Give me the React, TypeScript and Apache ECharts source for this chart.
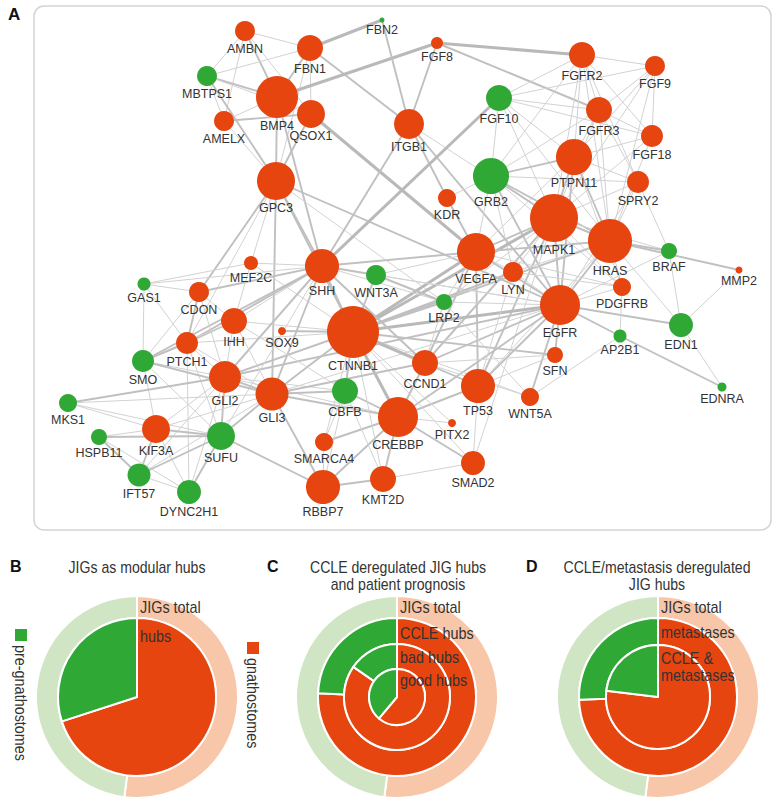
import React, { useEffect, useRef } from 'react';
import * as echarts from 'echarts';

const FONT = '"Liberation Sans", Arial, Helvetica, sans-serif';
const ORANGE = '#E6450F';
const GREEN = '#2FA836';
const LIGHT_ORANGE = '#F8C6A8';
const LIGHT_GREEN = '#CFE5C3';

// ---- Panel A: network nodes ----
const nodeNames = ['AMBN','FBN1','FBN2','MBTPS1','BMP4','QSOX1','AMELX','GPC3','FGF8','FGFR2','FGF9','FGF10','FGFR3','ITGB1','FGF18','PTPN11','GRB2','SPRY2','KDR','MAPK1','HRAS','BRAF','VEGFA','LYN','MMP2','PDGFRB','LRP2','EGFR','EDN1','AP2B1','SFN','CCND1','TP53','EDNRA','WNT5A','CREBBP','PITX2','SMAD2','KMT2D','MEF2C','SHH','WNT3A','GAS1','CDON','IHH','SOX9','CTNNB1','PTCH1','SMO','GLI2','GLI3','CBFB','MKS1','KIF3A','SUFU','HSPB11','SMARCA4','IFT57','DYNC2H1','RBBP7'];
const nodeX = [245,310,382,207,277,311,224,276,437,582,655,499,599,409,652,574,491,638,447,554,610,669,476,513,739,622,444,560,681,620,555,425,478,722,530,398,452,473,383,251,322,376,144,199,234,282,353,187,143,225,272,345,68,156,221,99,324,139,189,323];
const nodeY = [31,48,20,76,97,114,121,181,43,55,66,98,110,124,136,157,176,182,198,218,241,251,252,272,270,287,302,305,325,336,355,363,386,387,397,417,423,463,479,263,266,275,284,292,321,331,332,343,361,377,394,391,403,429,436,437,442,475,492,487];
const nodeDiameter = [20,26,5,20,42,28,20,38,12,26,20,26,26,30,22,36,36,22,18,48,44,16,38,20,7,18,16,40,24,13,16,26,34,9,18,40,8,24,26,14,34,20,13,20,26,8,52,22,22,32,33,26,18,28,28,16,18,23,24,34];
// G = pre-gnathostomes, O = gnathostomes
const nodeClade = ['O','O','G','G','O','O','O','O','O','O','O','G','O','O','O','O','G','O','O','O','O','G','O','O','O','O','G','O','G','G','O','O','O','G','O','O','O','O','O','O','O','G','G','O','O','O','O','O','G','O','O','G','G','O','G','G','O','G','G','O'];

// ---- Panel A: network edges [source, target, strength] ----
const edges: [string, string, number][] = [
  ['AMBN','FBN1',1],['AMBN','MBTPS1',1],['AMBN','BMP4',2],['AMBN','AMELX',1],['AMBN','QSOX1',1],
  ['FBN1','FBN2',3],['FBN1','MBTPS1',1],['FBN1','BMP4',2],['FBN1','QSOX1',1],['FBN1','ITGB1',2],['FBN1','GPC3',1],
  ['MBTPS1','BMP4',2],['MBTPS1','QSOX1',1],['MBTPS1','AMELX',1],['MBTPS1','GPC3',2],
  ['AMELX','BMP4',1],['AMELX','QSOX1',2],['AMELX','GPC3',1],
  ['BMP4','QSOX1',1],['BMP4','GPC3',2],['BMP4','FGF8',3],['BMP4','SHH',2],
  ['QSOX1','GPC3',2],['QSOX1','VEGFA',3],
  ['GPC3','SHH',2],['GPC3','MEF2C',1],['GPC3','CDON',2],['GPC3','CTNNB1',2],['GPC3','EGFR',2],['GPC3','LRP2',1],['GPC3','PTCH1',1],['GPC3','GLI3',2],
  ['FBN2','ITGB1',2],
  ['ITGB1','FGF8',2],['ITGB1','KDR',2],['ITGB1','EGFR',2],['ITGB1','MAPK1',1],['ITGB1','SHH',2],
  ['FGF8','FGFR2',3],['FGF8','FGFR3',2],
  ['FGFR2','FGF9',1],['FGFR2','FGF10',1],['FGFR2','FGFR3',1],['FGFR2','FGF18',1],['FGFR2','PTPN11',1],['FGFR2','GRB2',1],['FGFR2','MAPK1',1],['FGFR2','HRAS',1],['FGFR2','SPRY2',1],
  ['FGF9','FGFR3',1],['FGF9','PTPN11',1],['FGF9','FGF10',1],['FGF9','FGF18',1],['FGF9','HRAS',1],['FGF9','MAPK1',1],
  ['FGF10','FGFR3',1],['FGF10','FGF18',1],['FGF10','MAPK1',1],['FGF10','SHH',3],['FGF10','PTPN11',1],['FGF10','HRAS',1],['FGF10','GRB2',1],
  ['FGFR3','PTPN11',1],['FGFR3','GRB2',1],['FGFR3','MAPK1',1],['FGFR3','HRAS',1],['FGFR3','FGF18',1],['FGFR3','SPRY2',1],
  ['FGF18','PTPN11',1],['FGF18','MAPK1',1],['FGF18','HRAS',1],
  ['PTPN11','GRB2',2],['PTPN11','MAPK1',2],['PTPN11','HRAS',2],['PTPN11','EGFR',2],['PTPN11','SPRY2',1],['PTPN11','PDGFRB',1],['PTPN11','VEGFA',1],
  ['GRB2','MAPK1',2],['GRB2','HRAS',2],['GRB2','EGFR',2],['GRB2','KDR',1],['GRB2','VEGFA',1],['GRB2','LYN',1],['GRB2','PDGFRB',1],['GRB2','SPRY2',1],
  ['SPRY2','MAPK1',1],['SPRY2','HRAS',1],['SPRY2','EGFR',1],['SPRY2','BRAF',1],
  ['MAPK1','HRAS',2],['MAPK1','EGFR',2],['MAPK1','VEGFA',2],['MAPK1','BRAF',1],['MAPK1','CTNNB1',3],['MAPK1','TP53',2],['MAPK1','CCND1',2],['MAPK1','LYN',1],['MAPK1','PDGFRB',1],['MAPK1','SMAD2',1],['MAPK1','LRP2',1],
  ['HRAS','BRAF',2],['HRAS','EGFR',2],['HRAS','PDGFRB',1],['HRAS','VEGFA',2],['HRAS','EDN1',1],['HRAS','CTNNB1',2],['HRAS','TP53',1],['HRAS','MMP2',2],['HRAS','LYN',1],
  ['BRAF','EGFR',1],
  ['VEGFA','KDR',2],['VEGFA','EGFR',2],['VEGFA','CTNNB1',3],['VEGFA','TP53',2],['VEGFA','LRP2',1],['VEGFA','CCND1',2],['VEGFA','SHH',2],['VEGFA','LYN',1],['VEGFA','PDGFRB',1],['VEGFA','WNT3A',1],
  ['EGFR','CTNNB1',3],['EGFR','TP53',2],['EGFR','CCND1',2],['EGFR','SFN',2],['EGFR','LYN',1],['EGFR','PDGFRB',1],['EGFR','AP2B1',2],['EGFR','EDN1',2],['EGFR','LRP2',1],['EGFR','WNT5A',2],['EGFR','CREBBP',2],['EGFR','SHH',1],['EGFR','GLI2',2],['EGFR','GLI3',1],['EGFR','WNT3A',1],
  ['EDN1','MMP2',1],['EDN1','EDNRA',1],['EDN1','BRAF',1],
  ['AP2B1','EDNRA',2],['AP2B1','WNT5A',1],['AP2B1','PDGFRB',1],
  ['SFN','CCND1',1],['SFN','CTNNB1',2],['SFN','TP53',1],
  ['WNT5A','LRP2',1],['WNT5A','CTNNB1',1],['WNT5A','CCND1',1],
  ['TP53','CCND1',1],['TP53','CREBBP',2],['TP53','CTNNB1',2],['TP53','SMAD2',1],['TP53','LYN',1],
  ['CREBBP','CTNNB1',3],['CREBBP','CCND1',2],['CREBBP','SMAD2',2],['CREBBP','PITX2',1],['CREBBP','KMT2D',2],['CREBBP','CBFB',2],['CREBBP','SMARCA4',2],['CREBBP','RBBP7',2],['CREBBP','GLI3',2],['CREBBP','GLI2',1],
  ['SMAD2','KMT2D',1],['SMAD2','CTNNB1',1],
  ['KMT2D','RBBP7',2],['KMT2D','CBFB',1],['KMT2D','CTNNB1',1],
  ['RBBP7','SMARCA4',1],['RBBP7','GLI3',2],['RBBP7','SUFU',2],['RBBP7','CBFB',1],
  ['SMARCA4','CBFB',1],['SMARCA4','CTNNB1',1],
  ['CBFB','CTNNB1',2],['CBFB','GLI3',2],['CBFB','GLI2',1],
  ['CTNNB1','SHH',2],['CTNNB1','WNT3A',2],['CTNNB1','LRP2',2],['CTNNB1','CCND1',3],['CTNNB1','SOX9',2],['CTNNB1','GLI2',2],['CTNNB1','GLI3',2],['CTNNB1','IHH',1],['CTNNB1','MEF2C',1],['CTNNB1','LYN',2],['CTNNB1','PTCH1',1],['CTNNB1','PITX2',1],
  ['SHH','WNT3A',2],['SHH','MEF2C',1],['SHH','GAS1',1],['SHH','CDON',2],['SHH','IHH',1],['SHH','PTCH1',2],['SHH','SMO',2],['SHH','GLI2',2],['SHH','GLI3',2],['SHH','SUFU',1],['SHH','LRP2',1],['SHH','CCND1',2],
  ['WNT3A','LRP2',2],
  ['MEF2C','GAS1',1],['MEF2C','IHH',1],
  ['GAS1','CDON',1],['GAS1','SMO',1],['GAS1','PTCH1',1],
  ['CDON','PTCH1',2],['CDON','IHH',1],['CDON','SMO',1],['CDON','GLI2',1],
  ['IHH','PTCH1',2],['IHH','SMO',1],['IHH','GLI2',1],['IHH','GLI3',1],['IHH','CBFB',1],
  ['PTCH1','SMO',2],['PTCH1','GLI2',1],['PTCH1','GLI3',1],['PTCH1','SUFU',1],['PTCH1','DYNC2H1',1],
  ['SMO','GLI2',1],['SMO','GLI3',2],['SMO','KIF3A',1],['SMO','SUFU',1],
  ['GLI2','GLI3',2],['GLI2','SUFU',2],['GLI2','KIF3A',1],['GLI2','MKS1',2],['GLI2','IFT57',1],['GLI2','DYNC2H1',1],
  ['GLI3','SUFU',2],['GLI3','KIF3A',1],['GLI3','MKS1',1],['GLI3','IFT57',1],['GLI3','CCND1',2],
  ['MKS1','SUFU',1],['MKS1','KIF3A',1],
  ['KIF3A','SUFU',2],['KIF3A','IFT57',2],['KIF3A','DYNC2H1',1],['KIF3A','HSPB11',1],
  ['HSPB11','IFT57',2],['HSPB11','DYNC2H1',1],['HSPB11','SUFU',2],
  ['IFT57','DYNC2H1',1],['IFT57','SUFU',2],
  ['DYNC2H1','SUFU',2],
  ['LRP2','CCND1',1],
  ['LYN','PDGFRB',1],
];

// ---- Panels B-D: ring values [gnathostomes, pre-gnathostomes] ----
const jigsTotal = [208, 192];
const bHubs = [42, 18];
const cCcleHubs = [25, 8];
const cBadHubs = [11, 2];
const cGoodHubs = [11, 7];
const dMetastases = [35, 12];
const dCcleMetastases = [20, 6];

const panelTitles = {
  B: ['JIGs as modular hubs'],
  C: ['CCLE deregulated JIG hubs', 'and patient prognosis'],
  D: ['CCLE/metastasis deregulated', 'JIG hubs'],
};
const cladeNames = ['gnathostomes', 'pre-gnathostomes'];

const edgeStyle = (w: number) =>
  w >= 3 ? { width: 3, color: '#b9b9b9' } : w === 2 ? { width: 1.9, color: '#c0c0c0' } : { width: 1, color: '#d2d2d2' };

function ring(center: number[], radius: number[], values: number[], light: boolean) {
  return {
    type: 'pie',
    center,
    radius,
    startAngle: 90,
    clockwise: true,
    silent: true,
    label: { show: false },
    labelLine: { show: false },
    emphasis: { disabled: true },
    itemStyle: { borderColor: '#ffffff', borderWidth: 2 },
    data: values.map((v, i) => ({
      value: v,
      name: cladeNames[i],
      itemStyle: { color: i === 0 ? (light ? LIGHT_ORANGE : ORANGE) : (light ? LIGHT_GREEN : GREEN) },
    })),
  };
}

function txt(text: string, x: number, y: number, size: number, extra: any = {}, rotation = 0) {
  return {
    type: 'text',
    x,
    y,
    rotation,
    scaleX: extra.sx || 1,
    z: 100,
    style: {
      text,
      x: 0,
      y: 0,
      fontSize: size,
      fontFamily: FONT,
      fontWeight: extra.bold ? 'bold' : 'normal',
      fill: extra.fill || '#333333',
      textAlign: extra.align || 'left',
      textVerticalAlign: 'middle',
    },
  };
}

export default function App() {
  const ref = useRef<HTMLDivElement>(null);
  useEffect(() => {
    document.body.style.margin = '0';
    const chart = echarts.init(ref.current!, null, { renderer: 'svg' });

    const nodes = nodeNames.map((n, i) => ({
      name: n,
      value: [nodeX[i], nodeY[i]],
      symbolSize: nodeDiameter[i],
      itemStyle: { color: nodeClade[i] === 'G' ? GREEN : ORANGE },
    }));
    const links = edges.map(([s, t, w]) => ({ source: s, target: t, lineStyle: edgeStyle(w) }));

    const cB = [137, 697];
    const cC = [397, 697];
    const cD = [658, 697];
    const T = { align: 'center', sx: 0.88 };
    const L = { sx: 0.9 };

    const graphics: any[] = [
      {
        type: 'rect',
        z: 0,
        shape: { x: 34, y: 6, width: 737, height: 524, r: 10 },
        style: { fill: 'none', stroke: '#d3d3d3', lineWidth: 1.5 },
      },
      txt('A', 8, 14, 17, { bold: true, fill: '#111' }),
      txt('B', 10, 566, 16, { bold: true, fill: '#111' }),
      txt('C', 267, 566, 16, { bold: true, fill: '#111' }),
      txt('D', 526, 566, 16, { bold: true, fill: '#111' }),
      txt(panelTitles.B[0], 137, 567, 16, T),
      txt(panelTitles.C[0], 398, 567, 16, T),
      txt(panelTitles.C[1], 398, 584, 16, T),
      txt(panelTitles.D[0], 657, 567, 16, T),
      txt(panelTitles.D[1], 657, 584, 16, T),
      // B labels
      txt('JIGs total', 140, 607, 16, L),
      txt('hubs', 140, 636, 16, L),
      // C labels
      txt('JIGs total', 400, 607, 16, L),
      txt('CCLE hubs', 400, 633, 16, L),
      txt('bad hubs', 400, 657, 16, L),
      txt('good hubs', 400, 680, 16, L),
      // D labels
      txt('JIGs total', 661, 607, 16, L),
      txt('metastases', 661, 632, 16, L),
      txt('CCLE &', 661, 658, 16, L),
      txt('metastases', 661, 675, 16, L),
      // legend
      { type: 'rect', z: 100, shape: { x: 15, y: 629, width: 12, height: 12 }, style: { fill: GREEN } },
      txt(cladeNames[1], 21, 645, 16, { sx: 0.9 }, -Math.PI / 2),
      { type: 'rect', z: 100, shape: { x: 247, y: 642, width: 12, height: 12 }, style: { fill: ORANGE } },
      txt(cladeNames[0], 253, 658, 16, { sx: 0.9 }, -Math.PI / 2),
    ];

    const option: any = {
      animation: false,
      backgroundColor: '#ffffff',
      grid: { left: 0, right: 0, top: 0, bottom: 0 },
      xAxis: { type: 'value', min: 0, max: 777, show: false },
      yAxis: { type: 'value', min: 0, max: 805, inverse: true, show: false },
      graphic: graphics,
      series: [
        {
          type: 'graph',
          coordinateSystem: 'cartesian2d',
          silent: true,
          z: 3,
          data: nodes,
          links,
          symbol: 'circle',
          label: {
            show: true,
            position: 'bottom',
            distance: 1,
            fontSize: 12.5,
            fontFamily: FONT,
            color: '#333333',
          },
          lineStyle: { opacity: 1, curveness: 0 },
          emphasis: { disabled: true },
        },
        ring(cB, [79, 101], jigsTotal, true),
        ring(cB, [0, 79], bHubs, false),
        ring(cC, [79, 101], jigsTotal, true),
        ring(cC, [53, 79], cCcleHubs, false),
        ring(cC, [28, 53], cBadHubs, false),
        ring(cC, [0, 28], cGoodHubs, false),
        ring(cD, [79, 101], jigsTotal, true),
        ring(cD, [52, 79], dMetastases, false),
        ring(cD, [0, 52], dCcleMetastases, false),
      ],
    };
    chart.setOption(option);
    return () => chart.dispose();
  }, []);
  return <div ref={ref} style={{ width: 777, height: 805 }} />;
}
